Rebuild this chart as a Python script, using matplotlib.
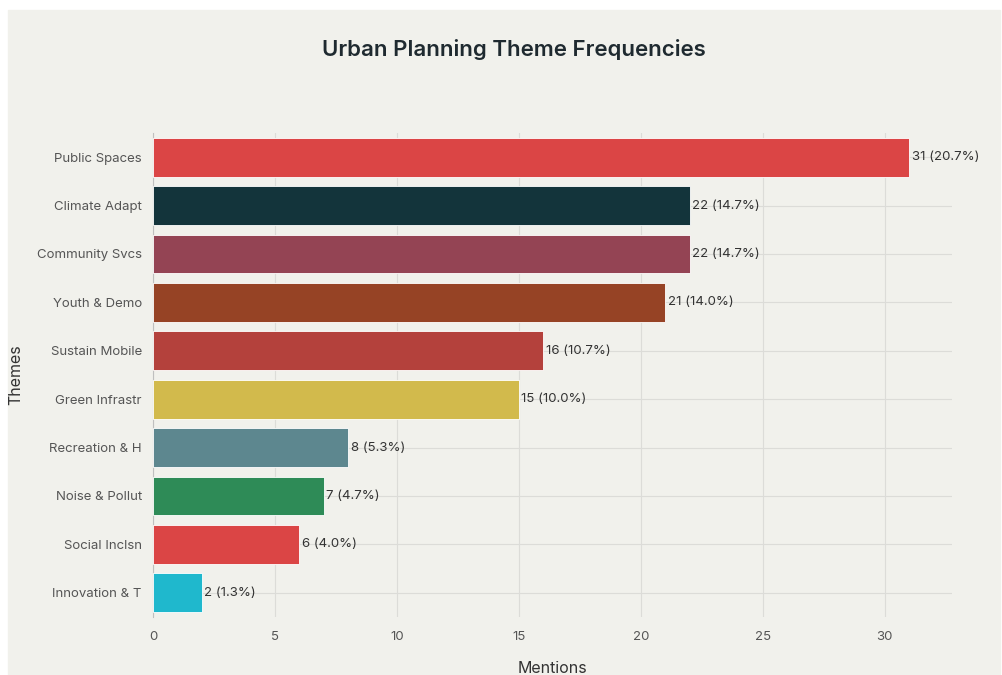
import matplotlib.pyplot as plt
from matplotlib.patches import Rectangle

# data, top to bottom as shown
themes = ['Public Spaces', 'Climate Adapt', 'Community Svcs', 'Youth & Demo',
          'Sustain Mobile', 'Green Infrastr', 'Recreation & H', 'Noise & Pollut',
          'Social Inclsn', 'Innovation & T']
mentions = [31, 22, 22, 21, 16, 15, 8, 7, 6, 2]
percents = [20.7, 14.7, 14.7, 14.0, 10.7, 10.0, 5.3, 4.7, 4.0, 1.3]
colors = ['#DB4545', '#13343B', '#944454', '#964325', '#B4413C',
          '#D2BA4C', '#5D878F', '#2E8B57', '#DB4545', '#1FB8CD']

plt.rcParams['font.family'] = ['Inter', 'DejaVu Sans']

fig = plt.figure(figsize=(10.03, 6.75), dpi=100)
fig.patch.set_facecolor('white')
bg = '#F1F1EC'
fig.add_artist(Rectangle((8 / 1003, 0), 992 / 1003, 665 / 675,
                         transform=fig.transFigure, color=bg, zorder=-5))

ax = fig.add_axes([0.1525, 0.086, 0.7965, 0.717])
ax.set_facecolor(bg)

ypos = list(range(len(themes)))[::-1]
ax.barh(ypos, mentions, height=0.8, color=colors, edgecolor='#FFFFFF',
        linewidth=0.6, zorder=3)

for y, v, p in zip(ypos, mentions, percents):
    ax.text(v + 0.1, y, f'{v} ({p:.1f}%)', va='center', ha='left',
            fontsize=9.5, color='#333333', zorder=4)

ax.set_xlim(0, 32.75)
ax.set_ylim(-0.5, 9.5)
ax.set_yticks(ypos)
ax.set_yticklabels(themes)
ax.set_xticks([0, 5, 10, 15, 20, 25, 30])

ax.grid(True, color='#DCDCD8', linewidth=0.8, zorder=0)
ax.set_axisbelow(True)
for s in ['top', 'right', 'bottom']:
    ax.spines[s].set_visible(False)
ax.spines['left'].set_color('#BFBFBF')
ax.tick_params(axis='both', length=0, labelsize=9.5, labelcolor='#555555')
ax.tick_params(axis='x', pad=10)
ax.tick_params(axis='y', pad=8)

ax.set_xlabel('Mentions', fontsize=11.5, color='#333333', labelpad=13)
ax.set_ylabel('Themes', fontsize=11.5, color='#333333', labelpad=10)
fig.text(0.512, 0.926, 'Urban Planning Theme Frequencies', ha='center', va='center',
         fontsize=16, fontweight='semibold', color='#1F2A30')

fig.savefig('out.png', dpi=100, facecolor=fig.get_facecolor())
